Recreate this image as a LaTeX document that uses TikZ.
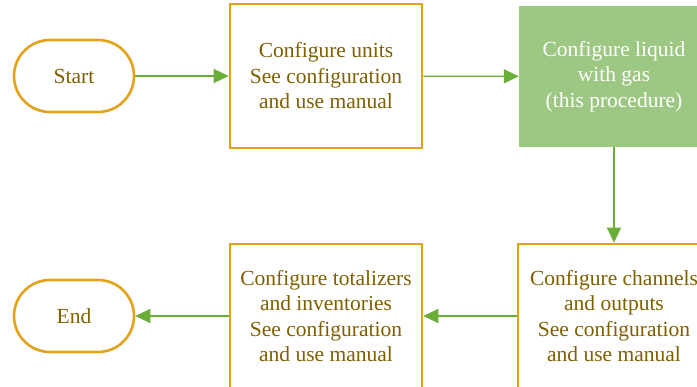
\documentclass[tikz,border=0pt]{standalone}
\usepackage{fontspec}
\setmainfont{Liberation Serif}
\usetikzlibrary{arrows.meta}
\definecolor{orng}{HTML}{E3A21A}
\definecolor{txtb}{HTML}{7F6000}
\definecolor{grn}{HTML}{6AAE3A}
\definecolor{grnfill}{HTML}{9DC883}
\tikzset{
  tfont/.style={font=\fontsize{21.5}{25.5}\selectfont},
  term/.style={draw=orng, line width=2.6pt, fill=white, rounded corners=36pt, minimum width=120pt, minimum height=72pt, inner sep=0pt, text=txtb, tfont, align=center},
  proc/.style={draw=orng, line width=2.6pt, fill=white, minimum width=192pt, minimum height=144pt, inner sep=0pt, text=txtb, tfont, align=center},
  gproc/.style={fill=grnfill, minimum width=190pt, minimum height=141pt, inner sep=0pt, text=white, tfont, align=center},
  conn/.style={draw=grn, line width=1.2pt, -{Triangle[length=15pt,width=14pt]}}
}
\begin{document}
\begin{tikzpicture}[x=1pt,y=-1pt]
\useasboundingbox (0,0) rectangle (697,387);
\clip (0,0) rectangle (697,387);
\node[term] (start) at (74,76) {Start};
\node[proc] (units) at (326,76) {Configure units\\See configuration\\and use manual};
\node[gproc] (liq) at (614,76.5) {Configure liquid\\with gas\\(this procedure)};
\node[proc] (chan) at (614,316) {Configure channels\\and outputs\\See configuration\\and use manual};
\node[proc] (tot) at (326,316) {Configure totalizers\\and inventories\\See configuration\\and use manual};
\node[term] (end) at (74,316) {End};
\draw[conn] (start) -- (units);
\draw[conn] (units) -- (liq);
\draw[conn] (liq) -- (chan);
\draw[conn] (chan) -- (tot);
\draw[conn] (tot) -- (end);
\end{tikzpicture}
\end{document}
